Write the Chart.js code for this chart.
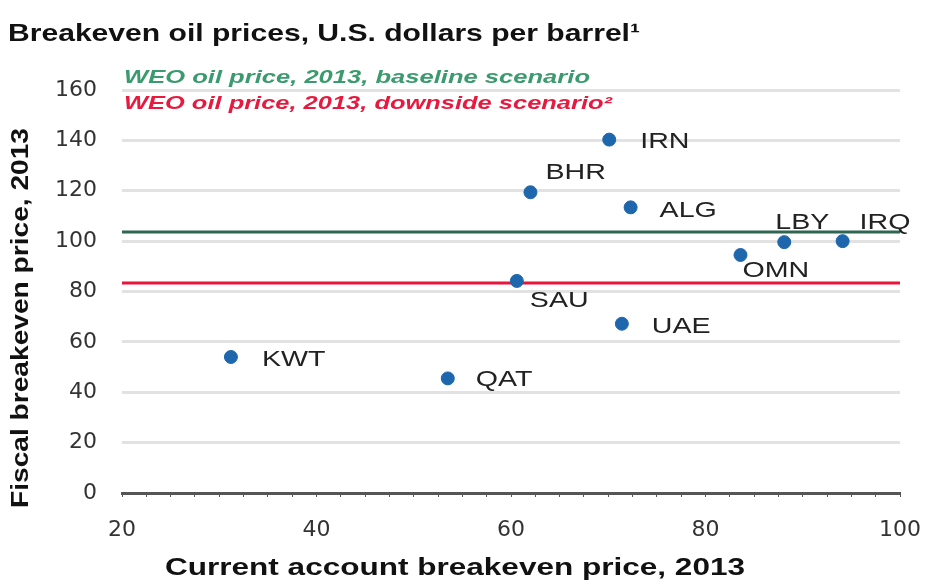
<!DOCTYPE html>
<html>
<head>
<meta charset="utf-8">
<script src="https://cdn.jsdelivr.net/npm/chart.js@4/dist/chart.umd.min.js"></script>
<style>
  body { margin: 0; background: #fff; }
  #wrap { width: 928px; height: 584px; position: relative; }
</style>
</head>
<body>
<div id="wrap"><canvas id="chart"></canvas></div>
<script>
// data
var countries = ["KWT", "QAT", "SAU", "BHR", "IRN", "ALG", "UAE", "OMN", "LBY", "IRQ"];
var currentAccount = [31.2, 53.5, 60.6, 62.0, 70.1, 72.3, 71.4, 83.6, 88.1, 94.1];
var fiscal = [54, 45.5, 84.2, 119.4, 140.3, 113.4, 67.2, 94.5, 99.6, 100];
var baselinePrice = 103.6;
var downsidePrice = 83.4;
var xTicks = [20, 40, 60, 80, 100];
var yTicks = [0, 20, 40, 60, 80, 100, 120, 140, 160];

// where each label sits relative to its dot (px)
var labelOffset = {
  KWT: [31, 3], QAT: [28, 2], SAU: [13, 20], BHR: [15, -19], IRN: [31, 2],
  ALG: [29, 4], UAE: [30, 3], OMN: [2, 16], LBY: [-9, -19], IRQ: [17, -18]
};

var FONT = "'Liberation Sans', Arial, sans-serif";

var points = [];
for (var i = 0; i < countries.length; i++) {
  points.push({ x: currentAccount[i], y: fiscal[i], label: countries[i] });
}

// the original type is wide, so stretch text sideways to the measured width
function wideText(ctx, text, x, y, font, width, align) {
  ctx.save();
  ctx.font = font;
  var w = ctx.measureText(text).width;
  var sx = width / w;
  var left = align === "center" ? x - width / 2 : x;
  ctx.translate(left, y);
  ctx.scale(sx, 1);
  ctx.textAlign = "left";
  ctx.textBaseline = "middle";
  ctx.fillText(text, 0, 0);
  ctx.restore();
}

var extras = {
  id: "extras",
  afterDatasetsDraw: function(chart) {
    var ctx = chart.ctx;
    var a = chart.chartArea;
    var meta = chart.getDatasetMeta(2);
    ctx.save();
    ctx.fillStyle = "#222";
    meta.data.forEach(function(el, i) {
      var off = labelOffset[countries[i]];
      ctx.font = "22px " + FONT;
      var w = ctx.measureText(countries[i]).width * 1.3;
      wideText(ctx, countries[i], el.x + off[0], el.y + off[1], "22px " + FONT, w, "left");
    });

    ctx.fillStyle = "#3b9a6e";
    wideText(ctx, "WEO oil price, 2013, baseline scenario", a.left + 2, a.top - 12,
      "italic bold 18px " + FONT, 466, "left");
    ctx.fillStyle = "#e8193f";
    wideText(ctx, "WEO oil price, 2013, downside scenario\u00b2", a.left + 2, a.top + 14,
      "italic bold 18px " + FONT, 488, "left");

    ctx.fillStyle = "#111";
    wideText(ctx, "Breakeven oil prices, U.S. dollars per barrel\u00b9", 8, 34,
      "bold 24px " + FONT, 632, "left");
    wideText(ctx, "Current account breakeven price, 2013", 455, 569,
      "bold 23px " + FONT, 580, "center");

    ctx.translate(22, 318);
    ctx.rotate(-Math.PI / 2);
    wideText(ctx, "Fiscal breakeven price, 2013", 0, 0, "bold 23px " + FONT, 380, "center");
    ctx.restore();
  }
};

var ctx = document.getElementById("chart").getContext("2d");
var chart = new Chart(ctx, {
  type: "scatter",
  data: {
    datasets: [
      {
        type: "line",
        data: [{ x: 20, y: baselinePrice }, { x: 100.5, y: baselinePrice }],
        borderColor: "#2f6650",
        borderWidth: 3,
        pointRadius: 0,
        order: 2
      },
      {
        type: "line",
        data: [{ x: 20, y: downsidePrice }, { x: 100.5, y: downsidePrice }],
        borderColor: "#e8143c",
        borderWidth: 3,
        pointRadius: 0,
        order: 2
      },
      {
        data: points,
        backgroundColor: "#1f67ad",
        borderColor: "#1f67ad",
        pointRadius: 6.5,
        order: 1
      }
    ]
  },
  options: {
    responsive: true,
    maintainAspectRatio: false,
    animation: false,
    layout: { padding: { left: 0, right: 28, top: 90, bottom: 0 } },
    plugins: {
      legend: { display: false },
      tooltip: { enabled: false },
      title: { display: false }
    },
    scales: {
      x: {
        type: "linear",
        min: 20,
        max: 100,
        afterBuildTicks: function(axis) {
          var t = [];
          for (var v = 20; v <= 100; v += 2.5) t.push({ value: v });
          axis.ticks = t;
        },
        afterFit: function(axis) {
          axis.height = 91;
          axis.paddingLeft = 0;
          axis.paddingRight = 0;
        },
        ticks: {
          autoSkip: false,
          maxRotation: 0,
          padding: 20,
          color: "#333",
          font: { family: "'DejaVu Sans', sans-serif", size: 22 },
          callback: function(v) { return xTicks.indexOf(v) >= 0 ? v : ""; }
        },
        grid: { drawOnChartArea: false, drawTicks: true, tickLength: 4, color: "#555" },
        border: { display: true, color: "#555", width: 3 }
      },
      y: {
        type: "linear",
        min: 0,
        max: 160,
        afterBuildTicks: function(axis) {
          axis.ticks = yTicks.map(function(v) { return { value: v }; });
        },
        afterFit: function(axis) { axis.width = 122; },
        ticks: {
          padding: 25,
          color: "#333",
          font: { family: "'DejaVu Sans', sans-serif", size: 22 }
        },
        grid: {
          drawTicks: false,
          color: function(c) { return c.tick.value === 0 ? "rgba(0,0,0,0)" : "#e2e2e2"; },
          lineWidth: 3
        },
        border: { display: false }
      }
    }
  },
  plugins: [extras]
});
</script>
</body>
</html>
